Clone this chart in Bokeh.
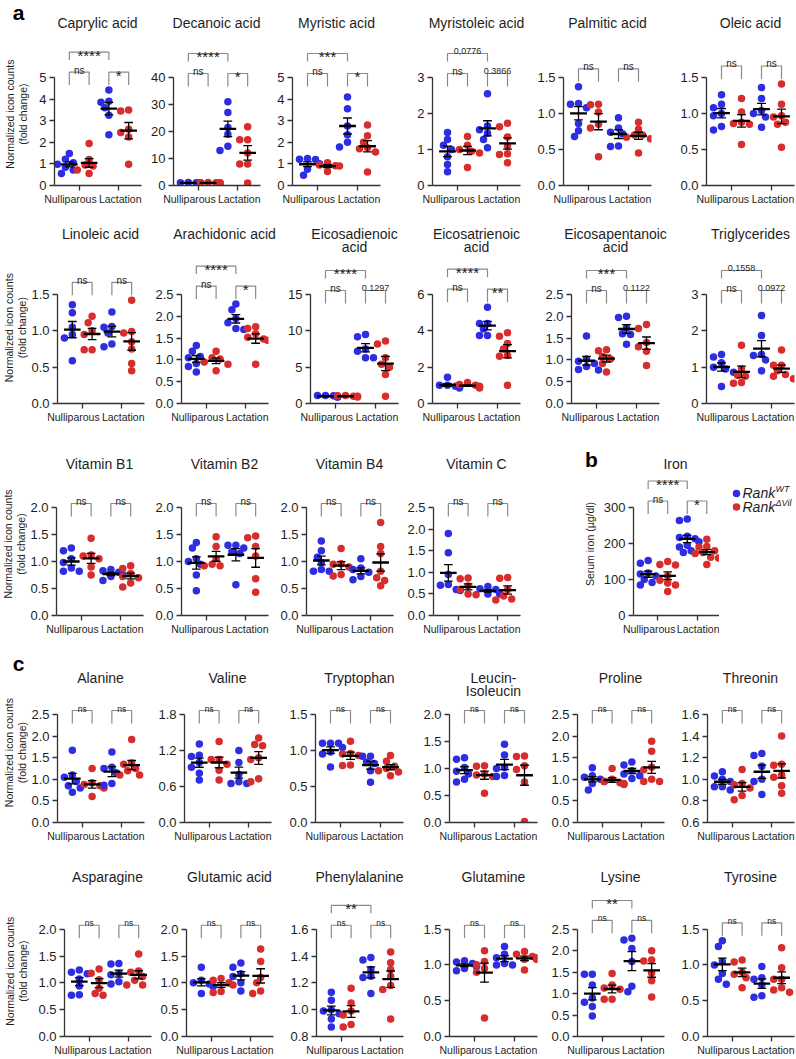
import math
import numpy as np
from bokeh.plotting import figure
from bokeh.layouts import column, row
from bokeh.models import FixedTicker, Label, Range1d, PrintfTickFormatter
from bokeh.embed import file_html
from bokeh.resources import INLINE
from bokeh.core.properties import value

# ------------------------------------------------------------------ data
# each panel: [Rank-WT nulliparous, Rank-dVil nulliparous, Rank-WT lactation, Rank-dVil lactation]
GROUP_LABELS = ["Nulliparous", "Lactation"]
LEGEND_NAMES = ["Rank", "Rank"]
LEGEND_SUPS = ["WT", "\u0394Vil"]
Y_LABEL = ["Normalized icon counts", "(fold change)"]
IRON_Y_LABEL = "Serum iron (\u00b5g/dl)"
PANEL_LETTERS = ["a", "b", "c"]

caprylic = [[1.48, 1.22, 1.05, 0.98, 0.85, 0.72, 0.56], [1.95, 1.2, 0.95, 0.9, 0.72, 0.56],
            [4.42, 3.9, 3.85, 3.6, 3.25, 2.35], [3.5, 3.45, 2.6, 2.45, 2.25, 0.98]]
decanoic = [[1.1, 1.0, 0.9, 1.05, 0.95, 1.0, 1.0], [1.0, 0.9, 1.1, 1.0, 1.05, 0.95],
            [31, 27, 21.5, 19, 14.5, 13], [21.8, 16.9, 16.9, 12, 8, 8, 0.9]]
myristic = [[1.25, 1.22, 1.2, 1.0, 1.0, 0.75, 0.47], [1.05, 0.95, 0.92, 0.9, 0.65],
            [4.1, 3.55, 2.75, 2.35, 2.0, 1.78], [2.8, 2.3, 2.0, 1.75, 1.7, 1.55, 0.62]]
myristoleic = [[1.47, 1.28, 1.12, 1.0, 0.8, 0.58, 0.38], [1.36, 1.12, 1.0, 0.95, 0.9, 0.5],
               [2.55, 1.65, 1.55, 1.45, 1.28, 1.05], [1.73, 1.63, 1.35, 1.1, 0.88, 0.86, 0.63]]
palmitic = [[1.37, 1.14, 1.13, 1.08, 0.86, 0.76, 0.68], [1.13, 1.12, 1.02, 0.85, 0.8, 0.4],
            [0.94, 0.8, 0.74, 0.72, 0.55, 0.54], [0.88, 0.78, 0.7, 0.7, 0.67, 0.65, 0.45]]
oleic = [[1.26, 1.13, 1.08, 1.0, 0.97, 0.82, 0.77], [1.21, 1.02, 0.88, 0.86, 0.85, 0.57],
         [1.36, 1.21, 1.04, 1.0, 0.95, 0.81], [1.41, 1.13, 0.97, 0.95, 0.88, 0.85, 0.53]]
linoleic = [[1.36, 1.25, 1.05, 0.95, 0.9, 0.59], [1.2, 1.11, 1.0, 0.95, 0.74, 0.74],
            [1.26, 1.06, 1.05, 0.97, 0.82, 0.78], [1.42, 0.99, 0.97, 0.85, 0.75, 0.55, 0.45]]
arachidonic = [[1.33, 1.2, 1.08, 1.05, 0.92, 0.85, 0.72], [1.2, 1.05, 1.02, 0.95, 0.9, 0.75],
               [2.28, 2.15, 1.95, 1.85, 1.72, 1.7], [1.76, 1.72, 1.6, 1.52, 1.48, 1.45, 0.9]]
eicosadienoic = [[1.1, 0.9, 1.0, 1.05, 0.95, 0.9, 1.1], [1.0, 1.05, 0.95, 0.9, 1.1, 1.0],
                 [9.5, 9.2, 7.5, 7.2, 6.3, 6.3], [8.6, 8.2, 6.3, 5.4, 5.0, 4.0, 1.0]]
eicosatrienoic = [[1.45, 1.0, 0.95, 0.9, 0.85, 0.95, 1.0], [1.15, 1.05, 1.0, 0.95, 0.9, 0.85],
                  [5.3, 4.4, 4.4, 4.1, 3.75, 3.75], [3.9, 3.7, 3.3, 3.0, 2.65, 2.6, 1.0]]
eicosapentanoic = [[1.55, 1.02, 0.97, 0.92, 0.85, 0.78, 0.77], [1.23, 1.21, 1.08, 1.02, 0.92, 0.72],
                   [2.0, 1.97, 1.74, 1.6, 1.58, 1.36], [1.81, 1.72, 1.4, 1.3, 1.2, 0.87]]
triglycerides = [[1.35, 1.28, 1.12, 1.0, 0.95, 0.86, 0.47], [1.6, 0.95, 0.78, 0.75, 0.58, 0.56],
                 [2.42, 1.87, 1.35, 1.32, 1.2, 0.9], [1.47, 1.05, 1.05, 0.9, 0.8, 0.75, 0.68]]
vitamin_b1 = [[1.25, 1.2, 1.05, 0.98, 0.88, 0.82, 0.82], [1.43, 1.12, 1.1, 1.05, 0.9, 0.75],
              [0.85, 0.83, 0.8, 0.76, 0.72, 0.65], [0.92, 0.87, 0.78, 0.72, 0.7, 0.6, 0.53]]
vitamin_b2 = [[1.35, 1.25, 1.05, 1.0, 0.95, 0.75, 0.46], [1.46, 1.28, 1.05, 0.95, 0.92, 0.92],
              [1.3, 1.3, 1.25, 1.18, 1.15, 0.57], [1.47, 1.44, 1.28, 1.1, 0.68, 0.43]]
vitamin_b4 = [[1.38, 1.2, 1.08, 0.98, 0.85, 0.82, 0.82], [1.24, 0.96, 0.95, 0.9, 0.76, 0.73],
              [1.05, 0.88, 0.85, 0.8, 0.72, 0.66], [1.72, 1.28, 1.15, 0.82, 0.7, 0.65, 0.55]]
vitamin_c = [[1.9, 1.45, 0.95, 0.72, 0.7, 0.6, 0.58], [0.87, 0.85, 0.68, 0.6, 0.5, 0.48],
             [0.67, 0.62, 0.6, 0.52, 0.5, 0.5], [0.88, 0.86, 0.6, 0.45, 0.38, 0.36]]
iron = [[153, 145, 118, 115, 110, 100, 92, 85], [150, 142, 140, 110, 98, 90, 85, 67],
        [268, 264, 220, 217, 213, 205, 195, 190, 180, 175], [212, 192, 190, 180, 175, 172, 162, 160, 142]]
alanine = [[1.67, 1.1, 1.05, 0.95, 0.85, 0.8, 0.7], [1.25, 0.92, 0.88, 0.85, 0.8, 0.6],
           [1.63, 1.28, 1.25, 1.15, 0.9, 0.86], [1.92, 1.38, 1.35, 1.25, 1.2, 1.1, 1.1]]
valine = [[1.31, 1.12, 1.1, 1.0, 0.92, 0.82, 0.71], [1.35, 1.05, 1.05, 0.97, 0.87, 0.71],
          [1.2, 1.0, 0.8, 0.68, 0.65, 0.65], [1.41, 1.3, 1.28, 1.08, 1.05, 0.73, 0.68]]
tryptophan = [[1.1, 1.1, 1.1, 1.04, 0.98, 0.95, 0.77], [1.13, 0.96, 0.95, 0.93, 0.8, 0.79],
              [0.92, 0.92, 0.84, 0.82, 0.72, 0.56], [0.93, 0.85, 0.78, 0.75, 0.72, 0.7, 0.65]]
leucin_isoleucin = [[1.2, 1.17, 1.02, 0.95, 0.9, 0.8, 0.75], [1.05, 1.04, 0.9, 0.88, 0.85, 0.54],
                    [1.45, 1.25, 1.02, 1.0, 0.87, 0.85], [1.23, 1.22, 1.05, 0.98, 0.75, 0.02]]
proline = [[1.27, 1.08, 1.05, 1.0, 0.95, 0.9, 0.75], [1.25, 1.0, 0.95, 0.92, 0.9, 0.88],
           [1.4, 1.33, 1.2, 1.12, 1.08, 1.02], [1.88, 1.65, 1.28, 1.22, 1.0, 0.95, 0.95]]
threonin = [[1.07, 1.03, 1.0, 0.98, 0.93, 0.93, 0.9], [1.09, 0.96, 0.95, 0.92, 0.85, 0.81],
            [1.24, 1.22, 1.12, 1.0, 0.98, 0.86], [1.4, 1.14, 1.13, 1.04, 1.02, 0.94, 0.87]]
asparagine = [[1.24, 1.2, 1.17, 1.07, 0.94, 0.78, 0.77], [1.26, 1.18, 1.06, 0.9, 0.8, 0.77],
              [1.36, 1.35, 1.18, 1.15, 1.02, 0.98], [1.54, 1.22, 1.2, 1.12, 1.05, 0.96, 0.96]]
glutamic_acid = [[1.29, 1.05, 1.0, 0.98, 0.93, 0.8], [1.08, 1.05, 1.0, 0.96, 0.84, 0.82],
                 [1.37, 1.29, 1.17, 1.12, 1.0, 0.85], [1.63, 1.4, 1.1, 1.0, 0.85, 0.8]]
phenylalanine = [[1.13, 1.07, 1.0, 0.99, 0.97, 0.93, 0.87], [1.16, 1.05, 0.99, 0.96, 0.89, 0.87],
                 [1.39, 1.37, 1.3, 1.25, 1.24, 1.12], [1.43, 1.35, 1.3, 1.25, 1.18, 1.15, 0.93]]
glutamine = [[1.06, 1.04, 1.02, 1.0, 0.98, 0.95, 0.92], [1.2, 1.05, 1.0, 0.95, 0.9, 0.26],
             [1.26, 1.15, 1.1, 1.02, 1.0, 1.0], [1.19, 1.15, 1.12, 1.1, 1.08, 1.08, 0.93]]
lysine = [[1.45, 1.45, 1.2, 0.9, 0.8, 0.7, 0.48], [1.47, 1.2, 1.13, 1.1, 0.87, 0.87],
          [2.29, 2.25, 2.05, 1.75, 1.17, 1.04], [2.0, 1.78, 1.76, 1.48, 1.3, 0.92]]
tyrosine = [[1.34, 1.26, 1.05, 1.0, 0.88, 0.8, 0.73], [1.07, 1.04, 0.9, 0.87, 0.82, 0.68],
            [0.98, 0.82, 0.8, 0.72, 0.57, 0.55], [1.24, 0.96, 0.8, 0.8, 0.68, 0.65, 0.62]]

T5 = [0, 1, 2, 3, 4, 5]
T3 = [0, 1, 2, 3]
T15 = [0, 0.5, 1.0, 1.5]
T20 = [0, 0.5, 1.0, 1.5, 2.0]
T25 = [0, 0.5, 1.0, 1.5, 2.0, 2.5]

# (title lines, data, y ticks, (outer bracket, left bracket, right bracket))
ROW1 = [(["Caprylic acid"], caprylic, T5, ("****", "ns", "*")),
        (["Decanoic acid"], decanoic, [0, 10, 20, 30, 40], ("****", "ns", "*")),
        (["Myristic acid"], myristic, T5, ("***", "ns", "*")),
        (["Myristoleic acid"], myristoleic, T3, ("0,0776", "ns", "0.3866")),
        (["Palmitic acid"], palmitic, T15, (None, "ns", "ns")),
        (["Oleic acid"], oleic, T15, (None, "ns", "ns"))]
ROW2 = [(["Linoleic acid"], linoleic, T15, (None, "ns", "ns")),
        (["Arachidonic acid"], arachidonic, T25, ("****", "ns", "*")),
        (["Eicosadienoic", "acid"], eicosadienoic, [0, 5, 10, 15], ("****", "ns", "0.1297")),
        (["Eicosatrienoic", "acid"], eicosatrienoic, [0, 2, 4, 6], ("****", "ns", "**")),
        (["Eicosapentanoic", "acid"], eicosapentanoic, T25, ("***", "ns", "0.1122")),
        (["Triglycerides"], triglycerides, T3, ("0,1558", "ns", "0.0972"))]
ROW3 = [(["Vitamin B1"], vitamin_b1, T20, (None, "ns", "ns")),
        (["Vitamin B2"], vitamin_b2, T20, (None, "ns", "ns")),
        (["Vitamin B4"], vitamin_b4, T20, (None, "ns", "ns")),
        (["Vitamin C"], vitamin_c, T25, (None, "ns", "ns")),
        (["Iron"], iron, [0, 100, 200, 300], ("****", "ns", "*"))]
ROW4 = [(["Alanine"], alanine, T25, (None, "ns", "ns")),
        (["Valine"], valine, [0, 0.6, 1.2, 1.8], (None, "ns", "ns")),
        (["Tryptophan"], tryptophan, T15, (None, "ns", "ns")),
        (["Leucin-", "Isoleucin"], leucin_isoleucin, T20, (None, "ns", "ns")),
        (["Proline"], proline, T25, (None, "ns", "ns")),
        (["Threonin"], threonin, [0.6, 0.8, 1.0, 1.2, 1.4, 1.6], (None, "ns", "ns"))]
ROW5 = [(["Asparagine"], asparagine, T20, (None, "ns", "ns")),
        (["Glutamic acid"], glutamic_acid, T20, (None, "ns", "ns")),
        (["Phenylalanine"], phenylalanine, [0.8, 1.0, 1.2, 1.4, 1.6], ("**", "ns", "ns")),
        (["Glutamine"], glutamine, T15, (None, "ns", "ns")),
        (["Lysine"], lysine, T25, ("**", "ns", "ns")),
        (["Tyrosine"], tyrosine, T15, (None, "ns", "ns"))]

# ------------------------------------------------------------------ style / layout
FONT = "Liberation Sans"
BLUE = "#2d2de1"
RED = "#d72d2d"
AXIS_C = "#333333"
TXT_C = "#1e1e1e"
BRACKET_C = "#8a8a8a"
PPX = 20.0
X0 = -0.75
FW = 88
PAGE_LEFT = 0
PAGE_RIGHT = 795
NB = "\u00a0"

# pixel geometry of each row: strip (titles) top/bottom, panel bottom, y-axis top/bottom
GEOM = [
    dict(panels=ROW1, axes=[53, 172, 292, 432, 563, 706], top=0, ptop=34, bottom=218, atop=77, abot=185,
         title=22, ylab=(9, 22), ns=10, letters=[(PANEL_LETTERS[0], 18, 12)]),
    dict(panels=ROW2, axes=[56, 180, 310, 432, 571, 706], top=218, ptop=256, bottom=447, atop=294, abot=403,
         title=233, ylab=(8, 21), ns=10, letters=[]),
    dict(panels=ROW3, axes=[55, 180, 305, 432, 631], top=447, ptop=472, bottom=650, atop=507, abot=615,
         title=463, ylab=(7, 20), ns=10, letters=[(PANEL_LETTERS[1], 591, 459)]),
    dict(panels=ROW4, axes=[56, 183, 315, 449, 576, 706], top=650, ptop=697, bottom=858, atop=714, abot=822,
         title=677, ylab=(8, 21), ns=8.5, letters=[(PANEL_LETTERS[2], 18, 663)]),
    dict(panels=ROW5, axes=[63, 185, 315, 449, 576, 706], top=858, ptop=888, bottom=1058, atop=929, abot=1037,
         title=876, ylab=(9, 22), ns=8.5, letters=[]),
]


def fmt_ticks(ticks):
    dec = 0 if all(float(t).is_integer() for t in ticks) else 1
    return dec, [("%%.%df" % dec) % t for t in ticks]


def min_left(ticks):
    _, labels = fmt_ticks(ticks)
    w = max(sum(0.278 if c == "." else 0.556 for c in s) for s in labels) * 13
    return math.ceil(w + 9)


def swarm(vals, ppy):
    order = sorted(range(len(vals)), key=lambda i: -vals[i])
    placed = []
    offs = [0.0] * len(vals)
    cands = [0, -1, 1, -2, 2, -3, 3]
    step = 4.0
    for i in order:
        y = vals[i] * ppy
        dx = 0.0
        for c in cands:
            dx = c * step
            if all((dx - px) ** 2 + (y - py) ** 2 >= 6.6 ** 2 for px, py in placed):
                break
        placed.append((dx, y))
        offs[i] = dx / PPX
    return offs


def blank_fig(left, right, top, bottom):
    f = figure(width=right - left, height=bottom - top, x_range=Range1d(left, right),
               y_range=Range1d(bottom, top), x_axis_type=None, y_axis_type=None, min_border=0,
               toolbar_location=None, output_backend="svg", title=None)
    f.outline_line_color = None
    return f


def make_panel(spec, ax, left, right, fw, g):
    title, data, ticks, sig = spec
    ymin, ymax = ticks[0], ticks[-1]
    ppy = (g["abot"] - g["atop"]) / (ymax - ymin)
    fh = g["abot"] - g["ptop"]
    y_end = ymin + fh / ppy
    x_end = X0 + fw / PPX

    def Y(py):
        return ymin + (g["abot"] - py) / ppy

    p = figure(width=right - left, height=g["bottom"] - g["ptop"],
               x_range=Range1d(X0, x_end), y_range=Range1d(ymin, y_end),
               min_border_left=ax - left, min_border_right=right - (ax + fw),
               min_border_top=0, min_border_bottom=g["bottom"] - g["abot"],
               toolbar_location=None, output_backend="svg", title=None)
    p.xgrid.visible = False
    p.ygrid.visible = False
    p.outline_line_color = None

    dec, _ = fmt_ticks(ticks)
    p.yaxis.ticker = FixedTicker(ticks=ticks)
    p.yaxis.formatter = PrintfTickFormatter(format="%%.%df" % dec)
    p.yaxis.bounds = (ymin, ymax)
    p.xaxis.ticker = FixedTicker(ticks=[0.5, 2.5])
    p.xaxis.major_label_overrides = {0.5: GROUP_LABELS[0] + NB * 6, 2.5: NB + GROUP_LABELS[1]}
    p.xaxis.bounds = (X0, x_end)
    for axis in (p.xaxis[0], p.yaxis[0]):
        axis.axis_line_color = AXIS_C
        axis.axis_line_width = 1.3
        axis.major_tick_line_color = AXIS_C
        axis.major_tick_line_width = 1.3
        axis.major_tick_out = 5
        axis.major_tick_in = 0
        axis.minor_tick_line_color = None
        axis.major_label_text_font = FONT
        axis.major_label_text_color = TXT_C
    p.yaxis.major_label_text_font_size = "13px"
    p.yaxis.major_label_standoff = 3
    p.xaxis.major_label_text_font_size = "10.5px"
    p.xaxis.major_label_standoff = 2

    for gi, vals in enumerate(data):
        offs = swarm(vals, ppy)
        p.scatter([gi + o for o in offs], vals, size=7.5,
                  fill_color=BLUE if gi % 2 == 0 else RED, line_color=None)
    for gi, vals in enumerate(data):
        m = float(np.mean(vals))
        s = float(np.std(vals, ddof=1) / np.sqrt(len(vals)))
        p.segment(x0=[gi - 0.42], y0=[m], x1=[gi + 0.42], y1=[m], line_color="black", line_width=2.3)
        p.segment(x0=[gi, gi - 0.22, gi - 0.22], y0=[m - s, m + s, m - s],
                  x1=[gi, gi + 0.22, gi + 0.22], y1=[m + s, m + s, m - s],
                  line_color="black", line_width=1.3)

    maxv = max(max(v) for v in data)
    max_px = g["abot"] - (maxv - ymin) * ppy
    leg = min(g["atop"] + 9, max_px - 5)
    top = leg - 13
    outer, lab_l, lab_r = sig
    xs = [[0, 0, 1, 1], [2, 2, 3, 3]]
    ys = [[Y(leg), Y(top), Y(top), Y(leg)]] * 2
    labels = [(0.5, top, lab_l), (2.5, top, lab_r)]
    if outer:
        otop = top - 20
        xs.append([0, 0, 2, 2])
        ys.append([Y(otop + 8), Y(otop), Y(otop), Y(otop + 8)])
        labels.append((1.0, otop, outer))
    p.multi_line(xs, ys, line_color=BRACKET_C, line_width=1.2)
    for x, ypx, txt in labels:
        if set(txt) == {"*"}:
            size, yy = 15, ypx + 3
        elif txt == "ns":
            size, yy = g["ns"], ypx - 2
        else:
            size, yy = 9, ypx - 3
        p.add_layout(Label(x=x, y=Y(yy), text=txt, text_align="center", text_baseline="alphabetic",
                           text_font=FONT, text_font_size="%spx" % size, text_color=TXT_C))
    return p


def make_strip(g):
    f = blank_fig(PAGE_LEFT, PAGE_RIGHT, g["top"], g["ptop"])
    xs, ys, ts = [], [], []
    for ax, spec in zip(g["axes"], g["panels"]):
        for k, line in enumerate(spec[0]):
            xs.append(ax + FW / 2.0)
            ys.append(g["title"] + 13 * k)
            ts.append(line)
    f.text(x=xs, y=ys, text=ts, text_font=value(FONT), text_font_size=value("14px"),
           text_align="center", text_baseline="middle", text_color=TXT_C)
    if g["letters"]:
        f.text(x=[l[1] for l in g["letters"]], y=[l[2] for l in g["letters"]],
               text=[l[0] for l in g["letters"]], text_font=value(FONT), text_font_style="bold",
               text_font_size=value("21px"), text_align="center", text_baseline="middle",
               text_color="black")
    return f


def make_gutter(left, right, g, texts):
    f = blank_fig(left, right, g["ptop"], g["bottom"])
    ymid = (g["atop"] + g["abot"]) / 2.0
    f.text(x=[t[0] for t in texts], y=[ymid] * len(texts), text=[t[1] for t in texts],
           angle=math.pi / 2, text_font=value(FONT), text_font_size=value("10.5px"),
           text_align="center", text_baseline="middle", text_color=TXT_C)
    return f


def make_legend(left, right, g):
    f = blank_fig(left, right, g["ptop"], g["bottom"])
    ys = [498, 515]
    f.scatter([736, 736], ys, size=7.5, fill_color=[BLUE, RED], line_color=None)
    f.text(x=[742, 742], y=ys, text=LEGEND_NAMES, text_font=value(FONT), text_font_style="italic",
           text_font_size=value("14px"), text_baseline="middle", text_color=TXT_C)
    f.text(x=[775, 775], y=[v - 5 for v in ys], text=LEGEND_SUPS, text_font=value(FONT),
           text_font_style="italic", text_font_size=value("9px"), text_baseline="middle",
           text_color=TXT_C)
    return f


rows = []
for ri, g in enumerate(GEOM):
    panels = g["panels"]
    axes = g["axes"]
    n = len(panels)
    is_b_row = (ri == 2)
    figs = []
    first_left = axes[0] - min_left(panels[0][2])
    figs.append(make_gutter(PAGE_LEFT, first_left, g,
                            [(g["ylab"][0], Y_LABEL[0]), (g["ylab"][1], Y_LABEL[1])]))
    cur = first_left
    for i, spec in enumerate(panels):
        ax = axes[i]
        iron_panel = is_b_row and i == n - 1
        fw = FW if (i < n - 1 or iron_panel) else min(FW, PAGE_RIGHT - ax)
        frame_end = ax + fw
        if i + 1 < n:
            gap = axes[i + 1] - frame_end
            if is_b_row and i + 1 == n - 1:
                right = frame_end + 14
            else:
                lnext = max(min_left(panels[i + 1][2]), gap - 14)
                right = frame_end + gap - lnext
        else:
            right = frame_end if iron_panel else PAGE_RIGHT
        if iron_panel:
            gl = axes[i] - min_left(spec[2])
            figs.append(make_gutter(cur, gl, g, [(589, IRON_Y_LABEL)]))
            cur = gl
        figs.append(make_panel(spec, ax, cur, right, fw, g))
        cur = right
    if is_b_row:
        figs.append(make_legend(cur, PAGE_RIGHT, g))
    rows.append(column(make_strip(g), row(*figs)))

p = column(*rows)
open("out.html", "w").write(file_html(p, INLINE, "Rank figure"))
